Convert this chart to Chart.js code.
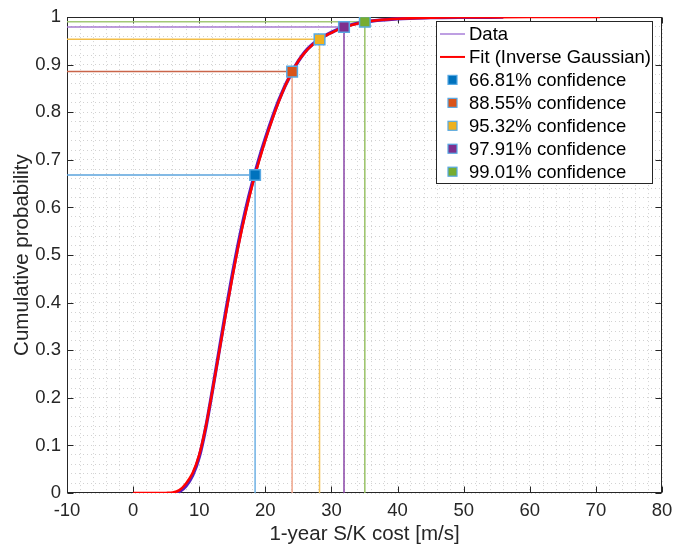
<!DOCTYPE html>
<html>
<head>
<meta charset="utf-8">
<script src="https://cdn.jsdelivr.net/npm/chart.js@4.4.1/dist/chart.umd.min.js"></script>
<style>
  html, body { margin: 0; padding: 0; background: #fff; }
  #chart { display: block; }
</style>
</head>
<body>
<canvas id="chart" width="686" height="547"></canvas>
<script>
// values
const fitX = [0, 4, 5, 6, 7, 8, 9, 10, 11, 12, 13, 14, 15, 16, 17, 18, 18.45, 19, 20, 21, 22, 23, 24.05, 25, 26, 27, 28.2, 29, 30, 31, 31.9, 33, 35.05, 37, 40, 45, 50, 55, 60, 70.6];
const fitP = [0, 0, 0.0002, 0.001, 0.006, 0.020, 0.042, 0.080, 0.140, 0.215, 0.295, 0.375, 0.452, 0.524, 0.588, 0.645, 0.668, 0.695, 0.741, 0.783, 0.821, 0.855, 0.8855, 0.908, 0.926, 0.940, 0.953, 0.960, 0.967, 0.9735, 0.979, 0.983, 0.990, 0.9935, 0.9965, 0.9988, 0.9996, 0.9999, 1, 1];

const dataX = [6.4, 7, 8, 9, 10, 11, 12, 13, 14, 15, 16, 17, 18, 19, 20, 22, 24, 26, 28, 30, 32, 35, 40, 45, 50, 56];
const dataP = [0, 0.003, 0.015, 0.037, 0.076, 0.138, 0.216, 0.298, 0.38, 0.458, 0.53, 0.594, 0.650, 0.700, 0.745, 0.824, 0.884, 0.927, 0.952, 0.968, 0.980, 0.990, 0.9966, 0.9989, 0.9997, 1];

const confX = [18.45, 24.05, 28.2, 31.9, 35.05];
const confP = [0.6681, 0.8855, 0.9532, 0.9791, 0.9901];
const confLabels = ['66.81% confidence', '88.55% confidence', '95.32% confidence', '97.91% confidence', '99.01% confidence'];
const seriesLabels = ['Data', 'Fit (Inverse Gaussian)'];

const xTickVals = [-10, 0, 10, 20, 30, 40, 50, 60, 70, 80];
const yTickVals = [0, 0.1, 0.2, 0.3, 0.4, 0.5, 0.6, 0.7, 0.8, 0.9, 1];
const xLimits = [-10, 80];
const yLimits = [0, 1];

// styles
const FONT = "'Liberation Sans', Arial, Helvetica, sans-serif";
const TEXT = '#262626';
const confFill = ['#0072BD', '#D95319', '#EDB120', '#7E2F8E', '#77AC30'];
const hLineColor = ['#5aa3dc', '#c9654a', '#f2bd48', '#a77bd0', '#a3c877'];
const vLineColor = ['#6fb1e4', '#f0a68c', '#f2c25a', '#8a45a8', '#98c265'];
const dataColor = '#5a1cbc';
const dataLegendColor = '#a87fd8';
const fitColor = '#ff0000';

const pts = (xs, ys) => xs.map((x, i) => ({ x: x, y: ys[i] }));

const datasets = [];

// confidence markers on top
confX.forEach((x, i) => {
  datasets.push({
    data: [{ x: x, y: confP[i] }],
    pointStyle: 'rect',
    pointRadius: 7.5,
    pointBackgroundColor: confFill[i],
    pointBorderColor: '#58a9e3',
    pointBorderWidth: 1.5,
    showLine: false
  });
});

datasets.push({
  data: pts(fitX, fitP),
  showLine: true,
  borderColor: fitColor,
  borderWidth: 2.5,
  pointRadius: 0,
  cubicInterpolationMode: 'monotone'
});

datasets.push({
  data: pts(dataX, dataP),
  showLine: true,
  borderColor: dataColor,
  borderWidth: 3.5,
  pointRadius: 0,
  cubicInterpolationMode: 'monotone'
});

// guide lines from the axes to each marker
confX.forEach((x, i) => {
  datasets.push({
    data: [{ x: xLimits[0], y: confP[i] }, { x: x, y: confP[i] }],
    showLine: true, borderColor: hLineColor[i], borderWidth: 1.5, pointRadius: 0
  });
  datasets.push({
    data: [{ x: x, y: 0 }, { x: x, y: confP[i] }],
    showLine: true, borderColor: vLineColor[i], borderWidth: 1.5, pointRadius: 0
  });
});

const near = (arr, v) => arr.some(t => Math.abs(t - v) < 1e-6);

const matlabBox = {
  id: 'matlabBox',
  beforeDatasetsDraw(chart) {
    const ctx = chart.ctx, a = chart.chartArea;
    const xs = chart.scales.x, ys = chart.scales.y;
    const L = Math.round(a.left) + 0.5, R = Math.round(a.right) - 0.5;
    const T = Math.round(a.top) + 0.5, B = Math.round(a.bottom) - 0.5;
    ctx.save();
    ctx.strokeStyle = TEXT;
    ctx.lineWidth = 1;
    ctx.beginPath();
    xTickVals.forEach(v => {
      const px = Math.round(xs.getPixelForValue(v)) + 0.5;
      ctx.moveTo(px, B); ctx.lineTo(px, B - 6);
      ctx.moveTo(px, T); ctx.lineTo(px, T + 6);
    });
    yTickVals.forEach(v => {
      const py = Math.round(ys.getPixelForValue(v)) + 0.5;
      ctx.moveTo(L, py); ctx.lineTo(L + 6, py);
      ctx.moveTo(R, py); ctx.lineTo(R - 6, py);
    });
    ctx.stroke();
    ctx.strokeRect(L, T, R - L, B - T);
    ctx.restore();
  },
  afterDraw(chart) {
    const ctx = chart.ctx;
    const bx = 436.5, by = 21.5, bw = 216, bh = 162;
    const rowH = 22.95, y0 = 34;
    ctx.save();
    ctx.fillStyle = '#fff';
    ctx.fillRect(bx, by, bw, bh);
    ctx.strokeStyle = '#262626';
    ctx.lineWidth = 1;
    ctx.strokeRect(bx, by, bw, bh);
    ctx.font = '18.5px ' + FONT;
    ctx.textBaseline = 'middle';
    ctx.textAlign = 'left';
    const labels = seriesLabels.concat(confLabels);
    labels.forEach((txt, i) => {
      const y = y0 + i * rowH;
      if (i < 2) {
        ctx.strokeStyle = i === 0 ? dataLegendColor : fitColor;
        ctx.lineWidth = i === 0 ? 1.5 : 2;
        ctx.beginPath();
        ctx.moveTo(440, y); ctx.lineTo(465, y);
        ctx.stroke();
      } else {
        const k = i - 2;
        ctx.fillStyle = confFill[k];
        ctx.fillRect(448, y - 4.5, 9, 9);
        ctx.strokeStyle = '#58a9e3';
        ctx.lineWidth = 1.2;
        ctx.strokeRect(448, y - 4.5, 9, 9);
      }
      ctx.fillStyle = '#000';
      ctx.fillText(txt, 469, y + 1);
    });
    ctx.restore();
  }
};

new Chart(document.getElementById('chart'), {
  type: 'scatter',
  data: { datasets: datasets },
  options: {
    responsive: false,
    animation: false,
    devicePixelRatio: 1,
    layout: { padding: { top: 13, right: 24, left: 0, bottom: 0 } },
    plugins: { legend: { display: false }, tooltip: { enabled: false } },
    scales: {
      x: {
        type: 'linear',
        min: xLimits[0], max: xLimits[1],
        afterFit(s) { s.height = 54; },
        grid: { color: '#d2d2d2', lineWidth: 1, drawTicks: false },
        border: { display: false, dash: [1, 3] },
        ticks: {
          stepSize: 2, autoSkip: false, maxRotation: 0, padding: 7,
          color: TEXT, font: { family: FONT, size: 18.5 },
          callback: v => near(xTickVals, v) ? String(Math.round(v)) : ''
        },
        title: {
          display: true, text: '1-year S/K cost [m/s]', color: TEXT,
          font: { family: FONT, size: 20.5 }, padding: { top: 0, bottom: 0 }
        }
      },
      y: {
        type: 'linear',
        min: yLimits[0], max: yLimits[1],
        afterFit(s) { s.width = 67; },
        grid: { color: '#d2d2d2', lineWidth: 1, drawTicks: false },
        border: { display: false, dash: [1, 3] },
        ticks: {
          stepSize: 0.02, autoSkip: false, padding: 6,
          color: TEXT, font: { family: FONT, size: 18.5 },
          callback: v => near(yTickVals, v) ? String(+v.toFixed(1)) : ''
        },
        title: {
          display: true, text: 'Cumulative probability', color: TEXT,
          font: { family: FONT, size: 20.5 }, padding: { top: 10, bottom: 0 }
        }
      }
    }
  },
  plugins: [matlabBox]
});
</script>
</body>
</html>
